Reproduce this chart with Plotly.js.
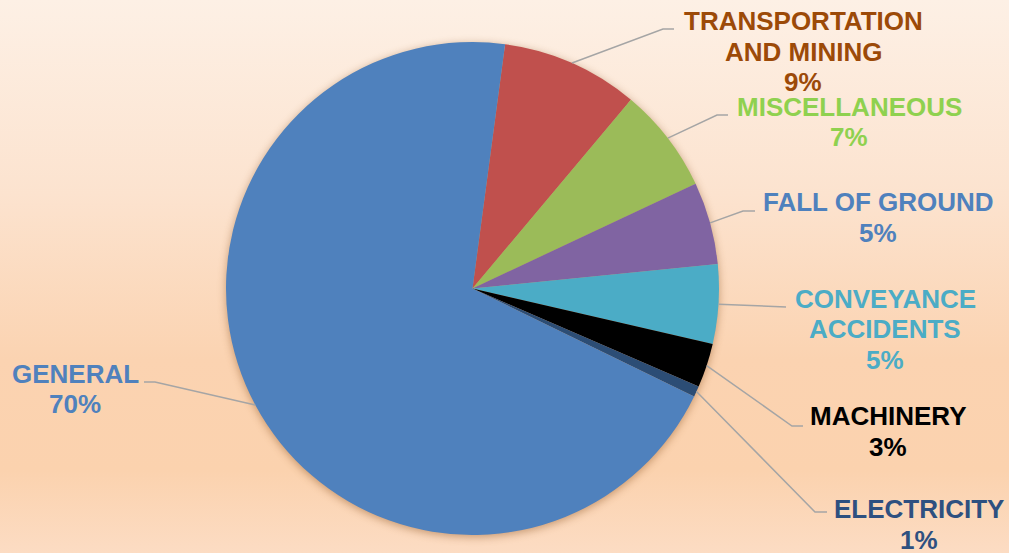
<!DOCTYPE html>
<html>
<head>
<meta charset="utf-8">
<script src="https://cdn.plot.ly/plotly-3.0.1.min.js"></script>
<style>
  html, body { margin: 0; padding: 0; }
  body {
    width: 1009px; height: 553px; overflow: hidden;
    background: linear-gradient(to bottom, #fdf0e5 0%, #fce3cf 35%, #fbd3b1 65%, #fbd2ae 85%, #fcdcc3 100%);
  }
  #chart { width: 1009px; height: 553px; }
  .pielayer .trace { filter: drop-shadow(0px 2px 4px rgba(130, 70, 20, 0.45)); }
</style>
</head>
<body>
<div id="chart"></div>
<script>
// ---- data ----
const categories = ['TRANSPORTATION AND MINING', 'MISCELLANEOUS', 'FALL OF GROUND',
  'CONVEYANCE ACCIDENTS', 'MACHINERY', 'ELECTRICITY', 'GENERAL'];
const labelLines = [['TRANSPORTATION', 'AND MINING'], ['MISCELLANEOUS'], ['FALL OF GROUND'],
  ['CONVEYANCE', 'ACCIDENTS'], ['MACHINERY'], ['ELECTRICITY'], ['GENERAL']];
const values = [9.0, 6.9, 5.4, 5.2, 2.9, 0.7, 69.9];

// ---- styles ----
const sliceColors = ['#c0504d', '#9bbb59', '#8064a2', '#4bacc6', '#000000', '#2c4d75', '#4f81bd'];
const labelColors = ['#9c4a08', '#8fd14f', '#4f81bd', '#4bacc6', '#000000', '#2e5080', '#4f81bd'];

// ---- layout (pixels) ----
const W = 1009, H = 553;
const pieCx = 472.5, pieCy = 288.5, pieR = 246.5;
const rotationDeg = 7.6;
const lineStep = 30.5;
const labelPos = [[803, 51.5], [849, 122], [878, 217.5], [885, 329], [888, 431.5], [919, 524.5], [75, 389]];
const leaderPts = [
  [[663, 29], [674, 29]],
  [[717, 115], [728, 115]],
  [[743, 211], [755, 211]],
  [[786, 307]],
  [[792, 426], [803, 426]],
  [[815, 512], [827, 512]],
  [[155, 382], [144, 382]]
];

const px = x => x / W;
const py = y => 1 - y / H;

const total = values.reduce((a, b) => a + b, 0);

const annotations = [];
const shapes = [];
let angle = rotationDeg;
values.forEach((v, i) => {
  const span = v / total * 360;
  const mid = (angle + span / 2) * Math.PI / 180;
  angle += span;
  const sx = pieCx + pieR * Math.sin(mid);
  const sy = pieCy - pieR * Math.cos(mid);
  let path = 'M ' + px(sx) + ',' + py(sy);
  leaderPts[i].forEach(p => { path += ' L ' + px(p[0]) + ',' + py(p[1]); });
  shapes.push({
    type: 'path', xref: 'paper', yref: 'paper', path: path,
    line: { color: '#a5a5a5', width: 1.5 }, layer: 'above'
  });
  const lines = labelLines[i].concat([Math.round(v / total * 100) + '%']);
  const n = lines.length;
  lines.forEach((t, k) => {
    const ly = labelPos[i][1] + (k - (n - 1) / 2) * lineStep;
    annotations.push({
      xref: 'paper', yref: 'paper',
      x: px(labelPos[i][0]), y: py(ly),
      xanchor: 'center', yanchor: 'middle', align: 'center',
      showarrow: false,
      text: t,
      font: { family: 'Liberation Sans, Arial, sans-serif', size: 26, weight: 'bold', color: labelColors[i] }
    });
  });
});

const trace = {
  type: 'pie',
  labels: categories,
  values: values,
  sort: false,
  direction: 'clockwise',
  rotation: rotationDeg,
  marker: { colors: sliceColors, line: { width: 0 } },
  textinfo: 'none',
  textposition: 'none',
  hoverinfo: 'label+percent',
  domain: { x: [px(pieCx - pieR), px(pieCx + pieR)], y: [py(pieCy + pieR), py(pieCy - pieR)] },
  showlegend: false
};

const layout = {
  width: W, height: H,
  margin: { l: 0, r: 0, t: 0, b: 0 },
  paper_bgcolor: 'rgba(0,0,0,0)',
  plot_bgcolor: 'rgba(0,0,0,0)',
  showlegend: false,
  annotations: annotations,
  shapes: shapes
};

Plotly.newPlot('chart', [trace], layout, { displayModeBar: false, staticPlot: true });
</script>
</body>
</html>
